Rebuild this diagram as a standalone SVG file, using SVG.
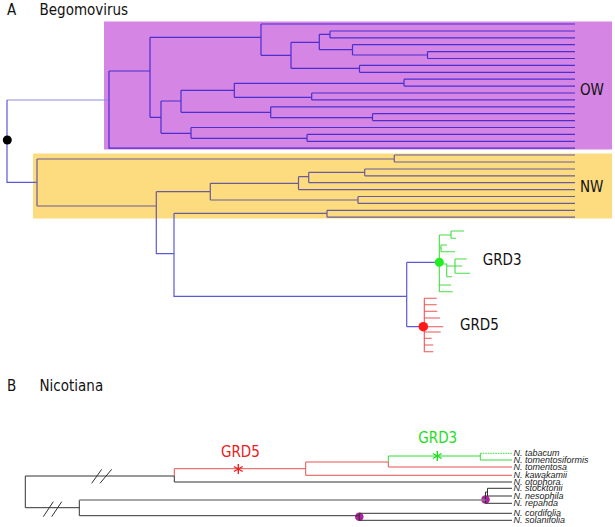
<svg xmlns="http://www.w3.org/2000/svg" width="615" height="527" viewBox="0 0 615 527">
<style>
text{font-family:"DejaVu Sans Condensed","DejaVu Sans",sans-serif;font-stretch:condensed;fill:#111}
.big{font-size:15px}
.sp{font-family:"Liberation Sans",Arial,sans-serif;font-stretch:normal;font-style:italic;font-size:9px;fill:#222}
.ow{fill:none;stroke:#4b2fd0;stroke-width:1.2}
.nw{fill:none;stroke:#6b5b98;stroke-width:1.2}
.bl{fill:none;stroke:#5a5ad8;stroke-width:1.2}
.blr{fill:none;stroke:#8c8ce0;stroke-width:1.2}
.g3{fill:none;stroke:#44dd44;stroke-width:1.1}
.g5{fill:none;stroke:#ee5555;stroke-width:1.1}
.k{fill:none;stroke:#333;stroke-width:1}
.gr{fill:none;stroke:#888;stroke-width:1.6}
.rd{fill:none;stroke:#e85050;stroke-width:1}
.gn{fill:none;stroke:#33dd33;stroke-width:1}
.ast{fill:none;stroke-width:1.4}
</style>
<g id="panelA">
  <rect id="OW-box" x="104" y="21.5" width="508" height="128" fill="#d585e4"/>
  <rect id="NW-box" x="33" y="153.5" width="579" height="65" fill="#fddc80"/>
  <g id="connectorsA">
    <path class="blr" d="M7,100 H109"/>
    <path class="bl" d="M7,100 V182.3 H37"/>
    <path class="ow" d="M109,71 V148.2 H575 M109,71 H150 M150,37.3 V117.3 M150,37.3 H261 M261,24 V55.3 M261,24 H575 M261,55.3 H291
      M291,42.3 V68.3 M291,42.3 H319.3 M319.3,34.3 V49.7 M319.3,34.3 H330 M330,31 V37.9 M330,31 H575 M330,37.9 H575
      M319.3,49.7 H352.5 M352.5,44.7 V55 M352.5,44.7 H575 M352.5,55 H427.5 M427.5,51.6 V58.5 M427.5,51.6 H575 M427.5,58.5 H575
      M291,68.3 H359.5 M359.5,65.4 V72.3 M359.5,65.4 H575 M359.5,72.3 H575
      M150,117.3 H161 M161,101 V133.3 M161,101 H181 M181,90.3 V112.3 M181,90.3 H234.3 M234.3,83.3 V97.3 M234.3,83.3 H404 M404,79.2 V86.1 M404,79.2 H575 M404,86.1 H575
      M234.3,97.3 H311.7 M311.7,93 V99.9 M311.7,93 H575 M311.7,99.9 H575
      M181,112.3 H270.7 M270.7,106.8 V117.7 M270.7,106.8 H575 M270.7,117.7 H372.5 M372.5,113.7 V120.6 M372.5,113.7 H575 M372.5,120.6 H575
      M161,133.3 H191 M191,127.5 V138.3 M191,127.5 H575 M191,138.3 H307 M307,134.4 V141.3 M307,134.4 H575 M307,141.3 H575"/>
    <path class="nw" d="M37,159 V206 M37,159 H394.3 M394.3,155 V162 M394.3,155 H575 M394.3,162 H575
      M37,206 H156.3 M156.3,191.7 V218 M156.3,191.7 H210.3 M210.3,183.3 V200 M210.3,183.3 H298.5 M298.5,176.7 V189.6 M298.5,189.6 H575
      M298.5,176.7 H308.7 M308.7,172.3 V182.7 M308.7,182.7 H575 M308.7,172.3 H364.7 M364.7,169 V175.8 M364.7,169 H575 M364.7,175.8 H575
      M210.3,200 H358 M358,196.5 V203.4 M358,196.5 H575 M358,203.4 H575
      M174,213.3 H327 M327,210.3 V217.2 M327,210.3 H575 M327,217.2 H575"/>
    <path class="bl" d="M156.3,218 V253.7 H174 M174,213.3 V296.3 H406.7 M406.7,262.3 V326.7 M406.7,262.3 H439.3 M406.7,326.7 H423.3"/>
  </g>
  <g id="GRD3-clade">
    <path class="g3" d="M439.3,235 V291.7 M439.3,235 H451 M451,231 V238.3 M451,231 H464 M451,238.3 H456
      M439.3,248 H441 M441,245 V251.7 M441,245 H447 M441,251.7 H455
      M439.3,264 H446.7 V276.7 M446.7,266 H455 M455,259 V273.3 M455,259 H466.7 M455,266 H462 M455,273.3 H470 M446.7,276.7 H452
      M439.3,285 H451 M439.3,291.7 H452.7"/>
    <circle cx="439.3" cy="262.3" r="4.5" fill="#22ee22"/>
  </g>
  <g id="GRD5-clade">
    <path class="g5" d="M424.3,298.3 V351.7 M424.3,298.3 H436.7 M424.3,304.7 H436.7 M424.3,311.3 H437.3 M424.3,318 H440 M424.3,326.7 H443.3 M424.3,332 H440.7 M424.3,338.3 H431.7 M424.3,345 H433.3 M424.3,351.7 H433.3"/>
    <circle cx="423.3" cy="326.7" r="4.8" fill="#ff1a1a"/>
  </g>
  <g id="root-node"><circle cx="7.3" cy="140" r="4.5" fill="#000"/></g>
  <g id="labelsA">
    <text class="big" x="7" y="15">A</text>
    <text class="big" x="39.5" y="15">Begomovirus</text>
    <text class="big" x="580" y="95">OW</text>
    <text class="big" x="580" y="191.5">NW</text>
    <text class="big" x="482.7" y="265">GRD3</text>
    <text class="big" x="460" y="330">GRD5</text>
  </g>
</g>
<g id="panelB">
  <g id="nodesB">
    <circle cx="485.5" cy="499.5" r="4.3" fill="#b0209f"/>
    <circle cx="359.3" cy="516.7" r="4.3" fill="#b0209f"/>
  </g>
  <g id="connectorsB">
    <path class="k" d="M25.3,476 V507.7 M25.3,476 H174.3 M91.7,483.3 L101.7,469.3 M100,483.3 L111.7,469.3 M174.3,476 V482 H512
      M25.3,507.7 H79.3 M43.3,516.7 L53.3,501.7 M51.7,516.7 L61.7,501.7 M79.3,500 V515.7 H359.3 M359.3,513.3 V520.3 M359.3,513.3 H512 M359.3,520.3 H512
      M485.5,492 V503.3 H512 M485.5,492 H487.5 M487.5,488.3 V496 M487.5,488.3 H512 M487.5,496 H512"/>
    <path class="gr" d="M79.3,500 H485.5"/>
    <path class="rd" d="M174.3,476 V468.7 H305.7 M305.7,462 V475.3 H512 M305.7,462 H388.3 V467 H512"/>
    <path class="gn" d="M388.3,462 V456 H480.3 M480.3,453.3 V460 H512"/>
    <path class="gn" d="M480.3,453.3 H512" stroke-dasharray="1.5 1"/>
    <path class="ast" stroke="#ee2020" d="M238.3,464 V474 M233.9,466.5 L242.7,471.5 M233.9,471.5 L242.7,466.5"/>
    <path class="ast" stroke="#22dd22" d="M437.3,451 V461 M432.9,453.5 L441.7,458.5 M432.9,458.5 L441.7,453.5"/>
  </g>
  <g id="labelsB">
    <text class="big" x="7" y="391">B</text>
    <text class="big" x="39.5" y="391">Nicotiana</text>
    <text class="big" x="221" y="457.3" style="fill:#e82020">GRD5</text>
    <text class="big" x="418.3" y="443.3" style="fill:#22dd22">GRD3</text>
    <text class="sp" x="513.5" y="456">N. tabacum</text>
    <text class="sp" x="513.5" y="463">N. tomentosiformis</text>
    <text class="sp" x="513.5" y="470">N. tomentosa</text>
    <text class="sp" x="513.5" y="478">N. kawakamii</text>
    <text class="sp" x="513.5" y="484.5">N. otophora</text>
    <text class="sp" x="513.5" y="491">N. stocktonii</text>
    <text class="sp" x="513.5" y="498.5">N. nesophila</text>
    <text class="sp" x="513.5" y="506">N. repanda</text>
    <text class="sp" x="513.5" y="516">N. cordifolia</text>
    <text class="sp" x="513.5" y="523">N. solanifolia</text>
  </g>
</g>
</svg>
